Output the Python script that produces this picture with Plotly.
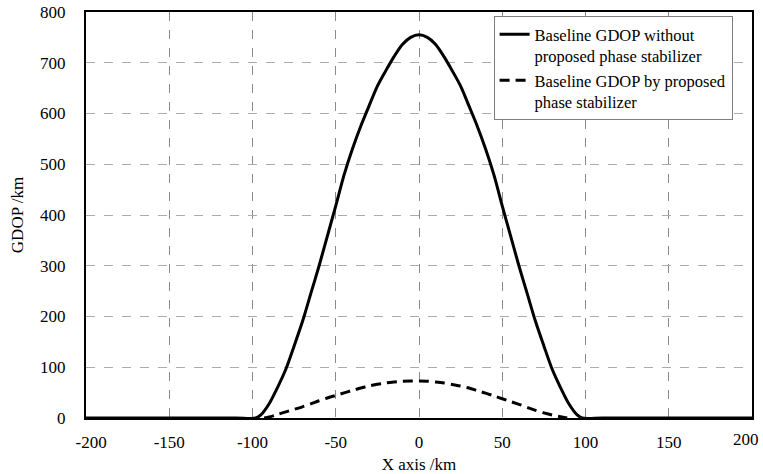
import plotly.graph_objects as go

# Data
x_km = [-200, -150, -110, -98, -95, -90, -85, -80, -75, -70, -65, -60, -55, -50, -45, -40, -35, -30,
        -25, -20, -15, -10, -5, 0, 5, 10, 15, 20, 25, 30, 35, 40, 45, 50, 55, 60, 65, 70,
        75, 80, 85, 90, 95, 98, 110, 150, 200]
gdop_without = [0, 0, 0, 0, 6, 28, 60, 96, 142, 190, 245, 300, 359, 418, 479, 530, 575, 615,
                654, 684, 712, 736, 750, 755, 750, 736, 712, 684, 654, 615, 575, 530, 479, 418, 359, 300, 245, 190,
                142, 96, 60, 28, 6, 0, 0, 0, 0]

x_dash = [-93, -90, -85, -80, -75, -70, -65, -60, -55, -50, -45, -40, -35, -30, -25, -20, -15, -10, -5,
          0, 5, 10, 15, 20, 25, 30, 35, 40, 45, 50, 55, 60, 65, 70, 75, 80, 85, 89]
gdop_with = [0, 2, 7, 12, 17, 22, 28, 34, 39.5, 44.5, 49.5, 54.5, 59, 63, 66.5, 69, 71, 72.5, 73,
             73, 72.5, 71, 69, 66, 63, 59, 54, 49, 43.5, 38, 32.5, 27, 21, 15, 10, 6, 2.5, 0]

name_without = "Baseline GDOP without<br>proposed phase stabilizer"
name_with = "Baseline GDOP by proposed<br>phase stabilizer"

x_ticks = [-200, -150, -100, -50, 0, 50, 100, 150, 200]
y_ticks = [0, 100, 200, 300, 400, 500, 600, 700, 800]

FONT = "Liberation Serif, DejaVu Serif, serif"
THIN = "\u2009"

# The last x label is drawn right-aligned at its tick (as in the reference) so it stays inside the figure
x_ticktext = [THIN * 3 + str(x_ticks[0])] + [str(v) for v in x_ticks[1:-1]] + [""]
last_label = str(x_ticks[-1])

fig = go.Figure()
fig.add_trace(go.Scatter(x=x_km, y=gdop_without, mode="lines", name=name_without,
                         line=dict(color="black", width=3, shape="spline", smoothing=0.8)))
fig.add_trace(go.Scatter(x=x_dash, y=gdop_with, mode="lines", name=name_with,
                         line=dict(color="black", width=3, dash="10px,6px", shape="spline", smoothing=0.8)))

fig.add_annotation(x=x_ticks[-1], xref="x", y=0, yref="paper", text=last_label,
                   showarrow=False, xanchor="right", yanchor="top", xshift=9, yshift=-10,
                   font=dict(family=FONT, size=17, color="black"))

fig.update_layout(
    template="none",
    width=763, height=474,
    margin=dict(l=86, r=11, t=12, b=56, autoexpand=False),
    paper_bgcolor="white", plot_bgcolor="white",
    font=dict(family=FONT, size=17, color="black"),
    showlegend=True,
    legend=dict(x=0.612, y=0.99, xanchor="left", yanchor="top",
                bgcolor="white", bordercolor="#7f7f7f", borderwidth=1,
                font=dict(family=FONT, size=16.5, color="black"),
                valign="top", tracegroupgap=0),
)
fig.update_xaxes(
    range=[-200, 200], tickvals=x_ticks, ticktext=x_ticktext,
    showgrid=True, gridcolor="#8a8a8a", gridwidth=1, griddash="dash",
    showline=True, linecolor="black", linewidth=2, mirror=True, automargin=False,
    zeroline=False, ticks="", ticklabelstandoff=8, ticklabeloverflow="allow",
    tickfont=dict(family=FONT, size=17),
    title=dict(text="X axis /km", standoff=9, font=dict(family=FONT, size=17)),
)
fig.update_yaxes(
    range=[0, 800], tickvals=y_ticks, ticktext=[str(v) for v in y_ticks],
    showgrid=True, gridcolor="#ababab", gridwidth=1, griddash="dash",
    showline=True, linecolor="black", linewidth=2, mirror=True, automargin=False,
    zeroline=False, ticks="", ticklabelstandoff=15, ticklabeloverflow="allow",
    tickfont=dict(family=FONT, size=17),
    title=dict(text="GDOP /km", standoff=12, font=dict(family=FONT, size=17)),
)

fig.write_html("out.html")
